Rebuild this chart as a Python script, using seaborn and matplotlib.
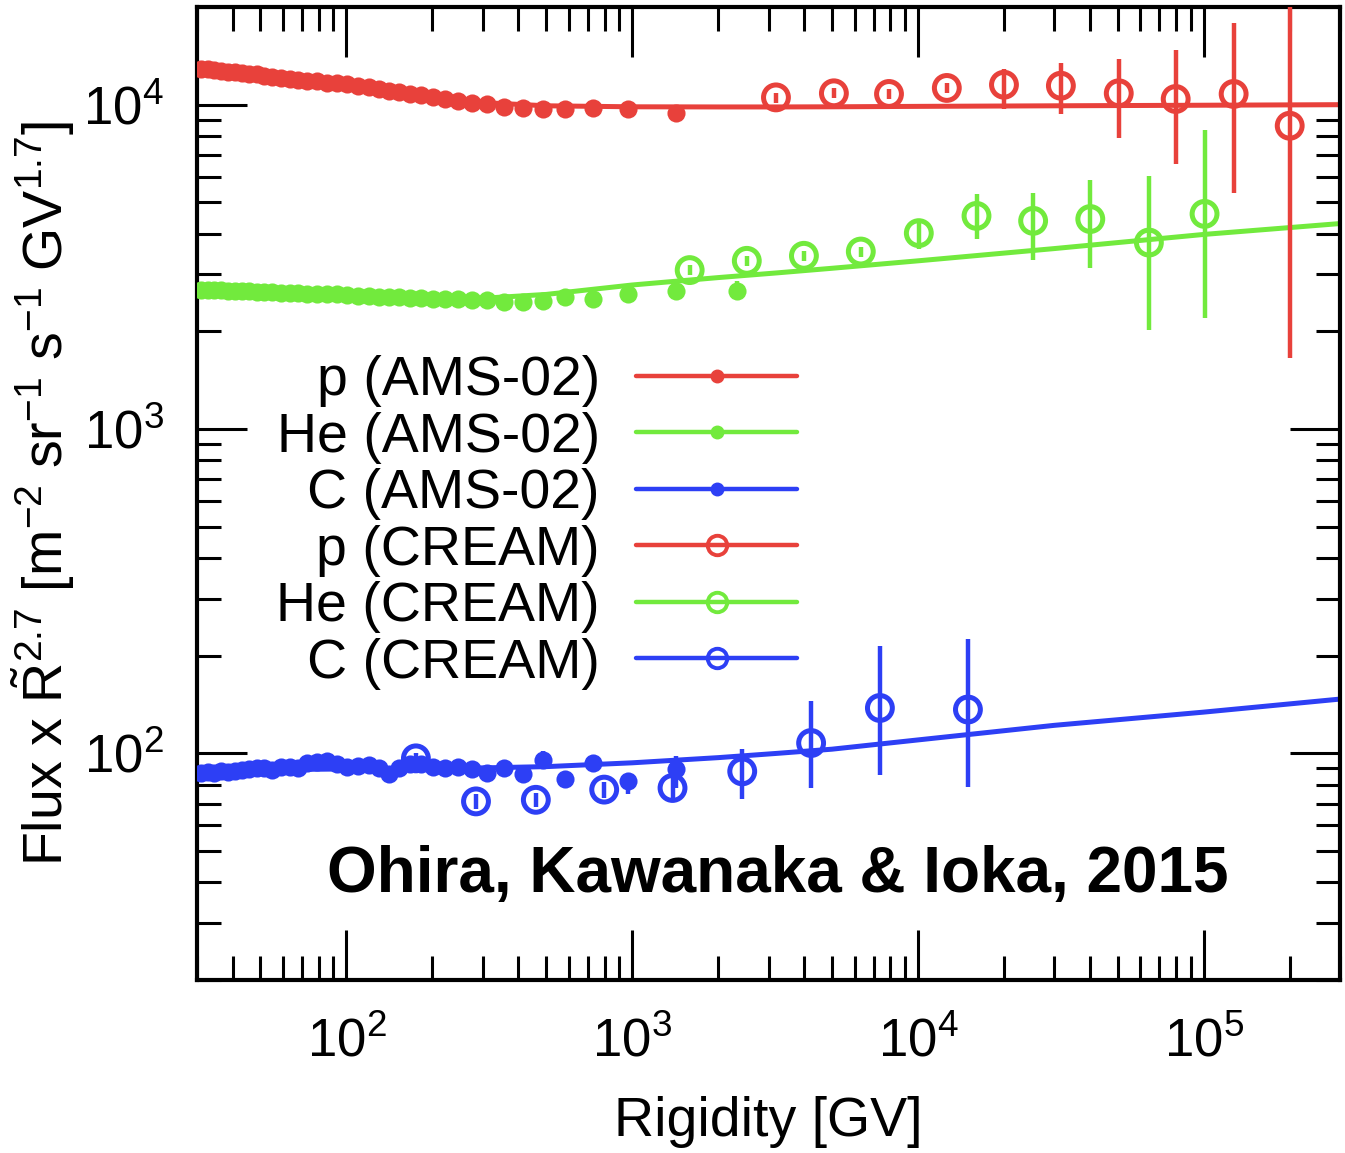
import matplotlib
matplotlib.use("Agg")
import matplotlib.pyplot as plt
from matplotlib.lines import Line2D
import seaborn as sns

sns.set_theme(style="ticks")
plt.rcParams['font.family'] = ['Liberation Sans', 'DejaVu Sans']
plt.rcParams['mathtext.fontset'] = 'custom'
plt.rcParams['mathtext.rm'] = 'Liberation Sans'
plt.rcParams['mathtext.it'] = 'Liberation Sans:italic'
plt.rcParams['mathtext.bf'] = 'Liberation Sans:bold'
for key in ['text.color', 'axes.labelcolor', 'xtick.color', 'ytick.color', 'axes.edgecolor']:
    plt.rcParams[key] = 'black'

RED = "#e8413b"
GREEN = "#72ea3d"
BLUE = "#2d3ff5"

# AMS-02 rigidity bin centres [GV]
ams_rig = [31.0, 32.7, 34.5, 36.4, 38.4, 40.6, 43.0, 45.6, 48.5, 51.6, 55.1, 58.9,
           63.2, 67.8, 73.0, 78.7, 85.2, 92.4, 100.5, 110, 120, 130, 141, 153, 167,
           183, 201, 222, 246, 275, 310, 355, 414, 486, 581, 727, 964, 1427]
p_ams = [12900, 12850, 12750, 12700, 12650, 12600, 12500, 12450, 12400, 12300, 12200, 12100,
         12000, 11950, 11850, 11800, 11700, 11650, 11550, 11400, 11300, 11150, 11050, 10950, 10800,
         10700, 10550, 10400, 10300, 10150, 10050, 9850, 9800, 9720, 9720, 9800, 9720, 9400]
he_ams_rig = ams_rig + [2330]
he_ams = [2690, 2690, 2680, 2680, 2670, 2670, 2660, 2660, 2650, 2650, 2640, 2630,
          2630, 2620, 2615, 2610, 2605, 2600, 2590, 2580, 2570, 2560, 2550, 2545, 2535,
          2530, 2520, 2515, 2510, 2505, 2500, 2455, 2455, 2480, 2550, 2525, 2615, 2665, 2665]
c_ams = [87, 87.5, 87, 88, 87.5, 88, 89, 89.5, 90, 90, 89, 90.5,
         91, 90, 93.5, 94, 94.5, 93, 91, 91.5, 92, 90, 86.5, 90, 92.5,
         93, 91, 90, 90.5, 89.5, 87, 90, 86.5, 95.6, 83.1, 93.3, 82, 89.3]

# visible AMS-02 error bars (high-rigidity bins only)
p_ams_err_rig = [964, 1427]
p_ams_lo = [9450, 9000]
p_ams_hi = [10000, 9800]
he_ams_err_rig = [1427, 2330]
he_ams_lo = [2580, 2516]
he_ams_hi = [2750, 2864]
c_ams_err_rig = [486, 581, 727, 964, 1427]
c_ams_lo = [91.0, 78.0, 88.0, 74.8, 78.0]
c_ams_hi = [101.4, 88.0, 99.0, 86.0, 98.0]

# CREAM
p_cream_rig = [3185, 5080, 7920, 12620, 20000, 31640, 50440, 79800, 127300, 200000]
p_cream = [10530, 10840, 10790, 11260, 11520, 11440, 10840, 10410, 10790, 8610]
p_cream_lo = [10150, 10450, 10400, 10850, 9720, 9380, 7910, 6575, 5350, 1655]
p_cream_hi = [10900, 11250, 11200, 11700, 12920, 13480, 13870, 14790, 17900, 30000]

he_cream_rig = [1589, 2518, 3990, 6310, 10070, 16030, 25300, 40100, 64300, 100700]
he_cream = [3090, 3300, 3420, 3525, 4017, 4540, 4383, 4440, 3757, 4605]
he_cream_lo = [2980, 3180, 3300, 3400, 3594, 3855, 3330, 3140, 2020, 2200]
he_cream_hi = [3200, 3420, 3540, 3650, 4385, 5310, 5350, 5865, 6040, 8380]

c_cream_rig = [175, 284, 460, 798, 1384, 2427, 4228, 7360, 14960]
c_cream = [96.5, 71.1, 71.9, 77.3, 78.2, 88.0, 107.6, 138, 136.5]
c_cream_lo = [92.5, 67.5, 68.3, 73.0, 72.0, 72.1, 78.0, 86.0, 79.0]
c_cream_hi = [100.5, 74.7, 75.5, 81.5, 86.0, 102.9, 144.5, 214, 225]

# model curves
model_rig = [30, 50, 100, 200, 300, 500, 1000, 2000, 3220, 5000, 10000, 30000, 100000, 300000]
p_model = [13000, 12400, 11600, 10600, 10150, 9920, 9850, 9840, 9840, 9850, 9880, 9920, 9960, 10000]
he_model = [2720, 2680, 2620, 2545, 2530, 2600, 2780, 2930, 3030, 3130, 3300, 3600, 3980, 4300]
c_model = [88.5, 89, 89.5, 90, 90.2, 91, 93.5, 97, 100, 103, 110, 122, 134, 147]

fig = plt.figure(figsize=(13.45, 11.53), dpi=100)
ax = fig.add_axes([0.1465, 0.1500, 0.8498, 0.8439])
ax.set_xscale("log")
ax.set_yscale("log")

series = [
    (RED, model_rig, p_model, ams_rig, p_ams, p_ams_err_rig, p_ams_lo, p_ams_hi,
     p_cream_rig, p_cream, p_cream_lo, p_cream_hi),
    (GREEN, model_rig, he_model, he_ams_rig, he_ams, he_ams_err_rig, he_ams_lo, he_ams_hi,
     he_cream_rig, he_cream, he_cream_lo, he_cream_hi),
    (BLUE, model_rig, c_model, ams_rig, c_ams, c_ams_err_rig, c_ams_lo, c_ams_hi,
     c_cream_rig, c_cream, c_cream_lo, c_cream_hi),
]

for (col, mr, mv, ar, av, aer, alo, ahi, cr, cv, clo, chi) in series:
    sns.lineplot(x=mr, y=mv, ax=ax, color=col, lw=3.6, legend=False, zorder=2)
    ax.vlines(aer, alo, ahi, colors=col, lw=3.2, zorder=3)
    sns.scatterplot(x=ar, y=av, ax=ax, color=col, s=170, edgecolor=col, linewidth=0,
                    legend=False, zorder=3)
    ax.vlines(cr, clo, chi, colors=col, lw=3.2, zorder=4)
    sns.scatterplot(x=cr, y=cv, ax=ax, marker="o", s=320, facecolor="none",
                    edgecolor=col, linewidth=3.6, legend=False, zorder=4)

ax.set_xlim(30, 3e5)
ax.set_ylim(20, 2e4)

for sp in ax.spines.values():
    sp.set_linewidth(3)
    sp.set_color("black")
ax.tick_params(which="both", direction="in", top=True, right=True, width=2.2, colors="black")
ax.tick_params(which="major", length=36, labelsize=38)
ax.tick_params(which="minor", length=17)
ax.tick_params(axis="x", which="major", pad=27)
ax.tick_params(axis="y", which="major", pad=24)

ax.set_xlabel("Rigidity [GV]", fontsize=40, labelpad=20, color="black")
ax.set_ylabel(r"Flux x $\tilde{\mathrm{R}}^{2.7}$ [m$^{-2}$ sr$^{-1}$ s$^{-1}$ GV$^{1.7}$]",
              fontsize=40, labelpad=4, color="black")

handles = [
    Line2D([], [], color=RED, lw=3.2, marker="o", ms=9),
    Line2D([], [], color=GREEN, lw=3.2, marker="o", ms=9),
    Line2D([], [], color=BLUE, lw=3.2, marker="o", ms=9),
    Line2D([], [], color=RED, lw=3.2, marker="o", ms=14, mfc="none", mew=2.8),
    Line2D([], [], color=GREEN, lw=3.2, marker="o", ms=14, mfc="none", mew=2.8),
    Line2D([], [], color=BLUE, lw=3.2, marker="o", ms=14, mfc="none", mew=2.8),
]
labels = ["p (AMS-02)", "He (AMS-02)", "C (AMS-02)",
          "p (CREAM)", "He (CREAM)", "C (CREAM)"]
leg = ax.legend(handles, labels, loc="upper right", bbox_to_anchor=(0.525, 0.642),
                markerfirst=False, alignment="right", frameon=False, fontsize=40,
                handlelength=2.9, handletextpad=0.65, labelspacing=0.08,
                borderpad=0, borderaxespad=0)
for t in leg.get_texts():
    t.set_color("black")

ax.text(0.508, 0.108, "Ohira, Kawanaka & Ioka, 2015", transform=ax.transAxes,
        ha="center", va="center", fontsize=46, fontweight="bold", color="black")

fig.savefig("out.png", dpi=100)
